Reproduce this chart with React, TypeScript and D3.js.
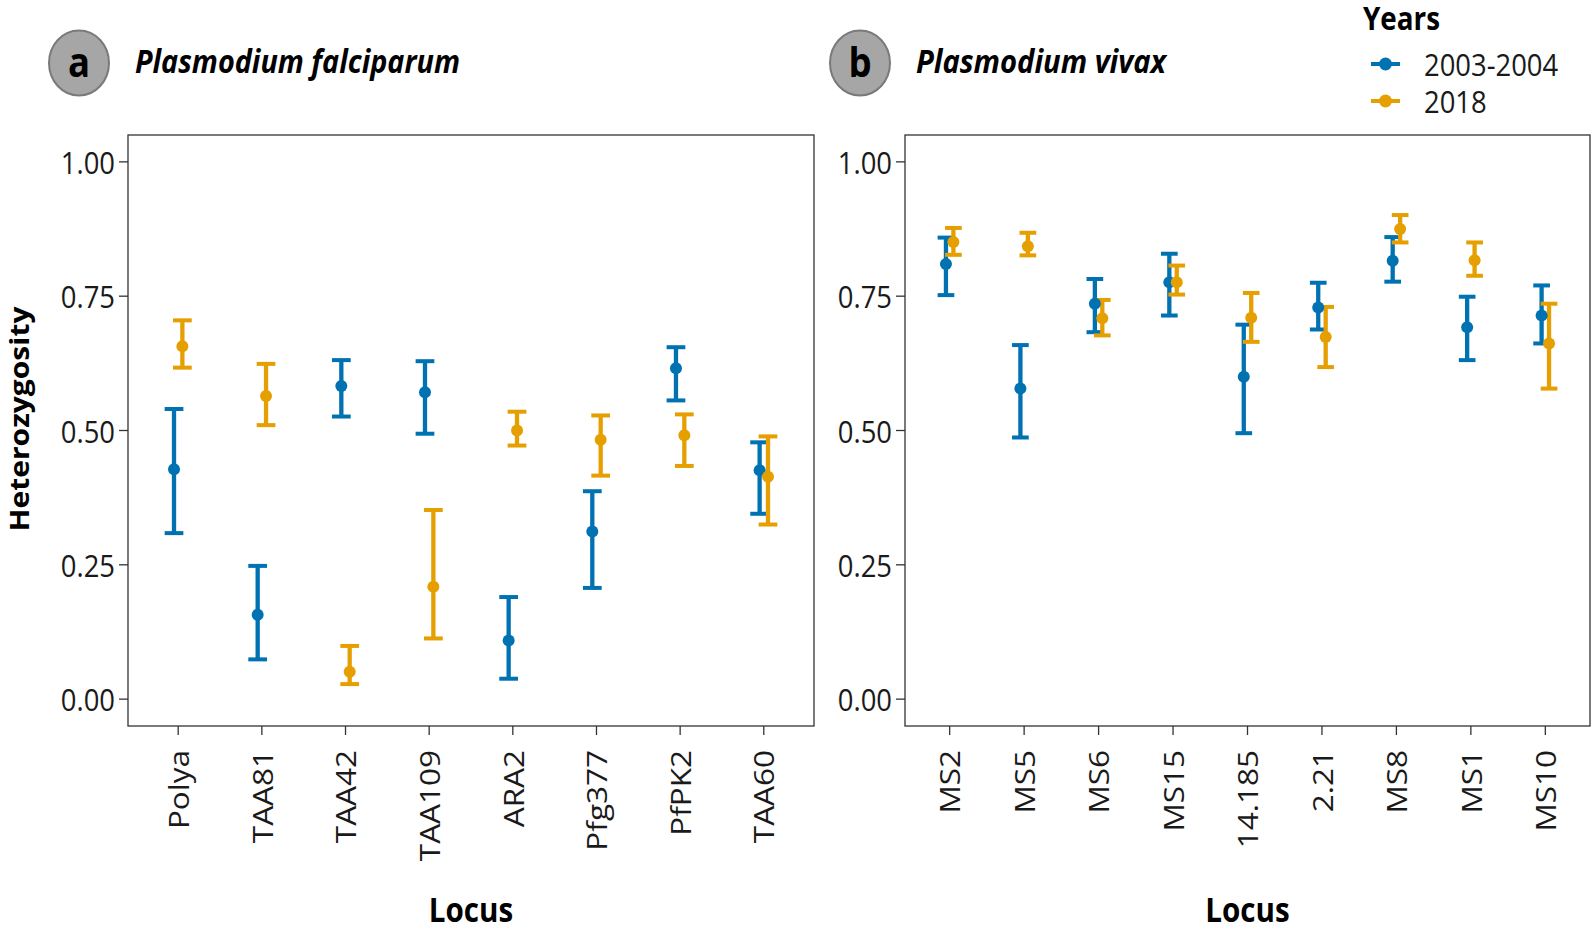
import React from "react";
import * as d3 from "d3";

// ---------- data ----------
const lociFalciparum = ["Polya", "TAA81", "TAA42", "TAA109", "ARA2", "Pfg377", "PfPK2", "TAA60"];
const falc2003 = [0.428, 0.157, 0.583, 0.571, 0.109, 0.312, 0.616, 0.426];
const falc2003Lo = [0.309, 0.074, 0.526, 0.494, 0.038, 0.207, 0.556, 0.345];
const falc2003Hi = [0.54, 0.248, 0.631, 0.629, 0.19, 0.387, 0.655, 0.478];
const falc2018 = [0.657, 0.564, 0.051, 0.209, 0.5, 0.483, 0.491, 0.414];
const falc2018Lo = [0.617, 0.51, 0.028, 0.113, 0.472, 0.416, 0.434, 0.325];
const falc2018Hi = [0.705, 0.624, 0.099, 0.352, 0.535, 0.528, 0.53, 0.489];

const lociVivax = ["MS2", "MS5", "MS6", "MS15", "14.185", "2.21", "MS8", "MS1", "MS10"];
const viv2003 = [0.81, 0.578, 0.736, 0.776, 0.6, 0.729, 0.816, 0.692, 0.714];
const viv2003Lo = [0.752, 0.487, 0.683, 0.714, 0.495, 0.688, 0.777, 0.631, 0.662];
const viv2003Hi = [0.859, 0.659, 0.782, 0.829, 0.697, 0.775, 0.86, 0.749, 0.77];
const viv2018 = [0.851, 0.843, 0.709, 0.776, 0.71, 0.674, 0.875, 0.817, 0.662];
const viv2018Lo = [0.827, 0.826, 0.677, 0.753, 0.665, 0.618, 0.85, 0.788, 0.578];
const viv2018Hi = [0.877, 0.868, 0.743, 0.807, 0.756, 0.73, 0.901, 0.85, 0.736];

const yTicks = [0, 0.25, 0.5, 0.75, 1];
const yTickLabels = ["0.00", "0.25", "0.50", "0.75", "1.00"];
const years = ["2003-2004", "2018"];
const colors = ["#0072B2", "#E69F00"];

// ---------- layout ----------
const W = 1595;
const H = 932;
const TOP = 135;
const BOTTOM = 726;
const SQ = 0.87; // horizontal squeeze of the reference
const FONT = "'Open Sans', 'Noto Sans', sans-serif";

const yScale = d3.scaleLinear().domain([-0.05, 1.05]).range([BOTTOM, TOP]);

type Series = { mid: number[]; lo: number[]; hi: number[] };

function Panel(props: {
  left: number;
  right: number;
  cats: string[];
  series: Series[];
  letter: string;
  title: string;
  titleLen: number;
  badgeX: number;
}) {
  const { left, right, cats, series, letter, title, titleLen, badgeX } = props;
  const x = d3.scalePoint<string>().domain(cats).range([left, right]).padding(0.6);
  const step = x.step();
  const dodge = [-0.05 * step, 0.05 * step];
  const capHalf = 0.112 * step;
  const cx = (left + right) / 2;
  return (
    <g>
      {/* badge */}
      <ellipse cx={badgeX} cy={63} rx={30} ry={32.5} fill="#a6a6a6" stroke="#7a7a7a" strokeWidth={2} />
      <text
        transform={`translate(${badgeX},${63}) scale(${SQ},1)`}
        textAnchor="middle"
        dominantBaseline="central"
        fontFamily={FONT}
        fontWeight={700}
        fontSize={42}
        fill="#000"
        dy={-2}
      >
        {letter}
      </text>
      <text
        x={badgeX + 56}
        y={73}
        fontFamily={FONT}
        fontWeight={700}
        fontStyle="italic"
        fontSize={32}
        textLength={titleLen}
        lengthAdjust="spacingAndGlyphs"
        fill="#000"
      >
        {title}
      </text>

      {/* frame */}
      <rect x={left} y={TOP} width={right - left} height={BOTTOM - TOP} fill="#fff" stroke="#333" strokeWidth={1.3} />

      {/* y axis */}
      {yTicks.map((t, i) => (
        <g key={"y" + i}>
          <line x1={left - 9} x2={left} y1={yScale(t)} y2={yScale(t)} stroke="#333" strokeWidth={1.3} />
          <text
            transform={`translate(${left - 13},${yScale(t)}) scale(${SQ},1)`}
            textAnchor="end"
            dominantBaseline="central"
            fontFamily={FONT}
            fontSize={31.5}
            fill="#1a1a1a"
          >
            {yTickLabels[i]}
          </text>
        </g>
      ))}

      {/* x axis */}
      {cats.map((c) => (
        <g key={"x" + c}>
          <line x1={x(c)!} x2={x(c)!} y1={BOTTOM} y2={BOTTOM + 9} stroke="#333" strokeWidth={1.3} />
          <text
            transform={`translate(${x(c)!},${750}) scale(${SQ},1) rotate(-90)`}
            textAnchor="end"
            dominantBaseline="central"
            fontFamily={FONT}
            fontSize={31.5}
            fill="#1a1a1a"
          >
            {c}
          </text>
        </g>
      ))}
      <text
        transform={`translate(${cx},${922}) scale(${SQ},1)`}
        textAnchor="middle"
        fontFamily={FONT}
        fontWeight={700}
        fontSize={34}
        fill="#000"
      >
        Locus
      </text>

      {/* error bars */}
      {series.map((s, si) =>
        cats.map((c, i) => {
          const px = x(c)! + dodge[si];
          return (
            <g key={`e${si}-${i}`} stroke={colors[si]} fill="none">
              <line x1={px} x2={px} y1={yScale(s.lo[i])} y2={yScale(s.hi[i])} strokeWidth={4.3} />
              <line x1={px - capHalf} x2={px + capHalf} y1={yScale(s.lo[i])} y2={yScale(s.lo[i])} strokeWidth={4} />
              <line x1={px - capHalf} x2={px + capHalf} y1={yScale(s.hi[i])} y2={yScale(s.hi[i])} strokeWidth={4} />
            </g>
          );
        })
      )}
      {/* points */}
      {series.map((s, si) =>
        cats.map((c, i) => (
          <circle
            key={`p${si}-${i}`}
            cx={x(c)! + dodge[si]}
            cy={yScale(s.mid[i])}
            r={6}
            fill={colors[si]}
          />
        ))
      )}
    </g>
  );
}

export default function App() {
  const falcSeries: Series[] = [
    { mid: falc2003, lo: falc2003Lo, hi: falc2003Hi },
    { mid: falc2018, lo: falc2018Lo, hi: falc2018Hi },
  ];
  const vivSeries: Series[] = [
    { mid: viv2003, lo: viv2003Lo, hi: viv2003Hi },
    { mid: viv2018, lo: viv2018Lo, hi: viv2018Hi },
  ];
  const legendY = [64, 101];
  return (
    <svg
      width={W}
      height={H}
      viewBox={`0 0 ${W} ${H}`}
      style={{ position: "absolute", left: 0, top: 0, background: "#fff" }}
    >
      <rect x={0} y={0} width={W} height={H} fill="#fff" />
      <Panel
        left={128}
        right={814}
        cats={lociFalciparum}
        series={falcSeries}
        letter="a"
        title="Plasmodium falciparum"
        titleLen={325}
        badgeX={79}
      />
      <Panel
        left={905}
        right={1590}
        cats={lociVivax}
        series={vivSeries}
        letter="b"
        title="Plasmodium vivax"
        titleLen={250}
        badgeX={860}
      />
      {/* y title */}
      <text
        transform={`translate(${29},${419}) scale(${SQ},1) rotate(-90)`}
        textAnchor="middle"
        fontFamily={FONT}
        fontWeight={700}
        fontSize={30}
        fill="#000"
      >
        Heterozygosity
      </text>

      {/* legend */}
      <text
        transform={`translate(${1363},${30}) scale(${SQ},1)`}
        fontFamily={FONT}
        fontWeight={700}
        fontSize={32}
        fill="#000"
      >
        Years
      </text>
      {years.map((yr, i) => (
        <g key={yr}>
          <line x1={1371} x2={1400} y1={legendY[i]} y2={legendY[i]} stroke={colors[i]} strokeWidth={4} />
          <circle cx={1385.5} cy={legendY[i]} r={6.5} fill={colors[i]} />
          <text
            transform={`translate(${1424},${legendY[i]}) scale(${SQ},1)`}
            dominantBaseline="central"
            fontFamily={FONT}
            fontSize={31.5}
            fill="#1a1a1a"
          >
            {yr}
          </text>
        </g>
      ))}
    </svg>
  );
}
